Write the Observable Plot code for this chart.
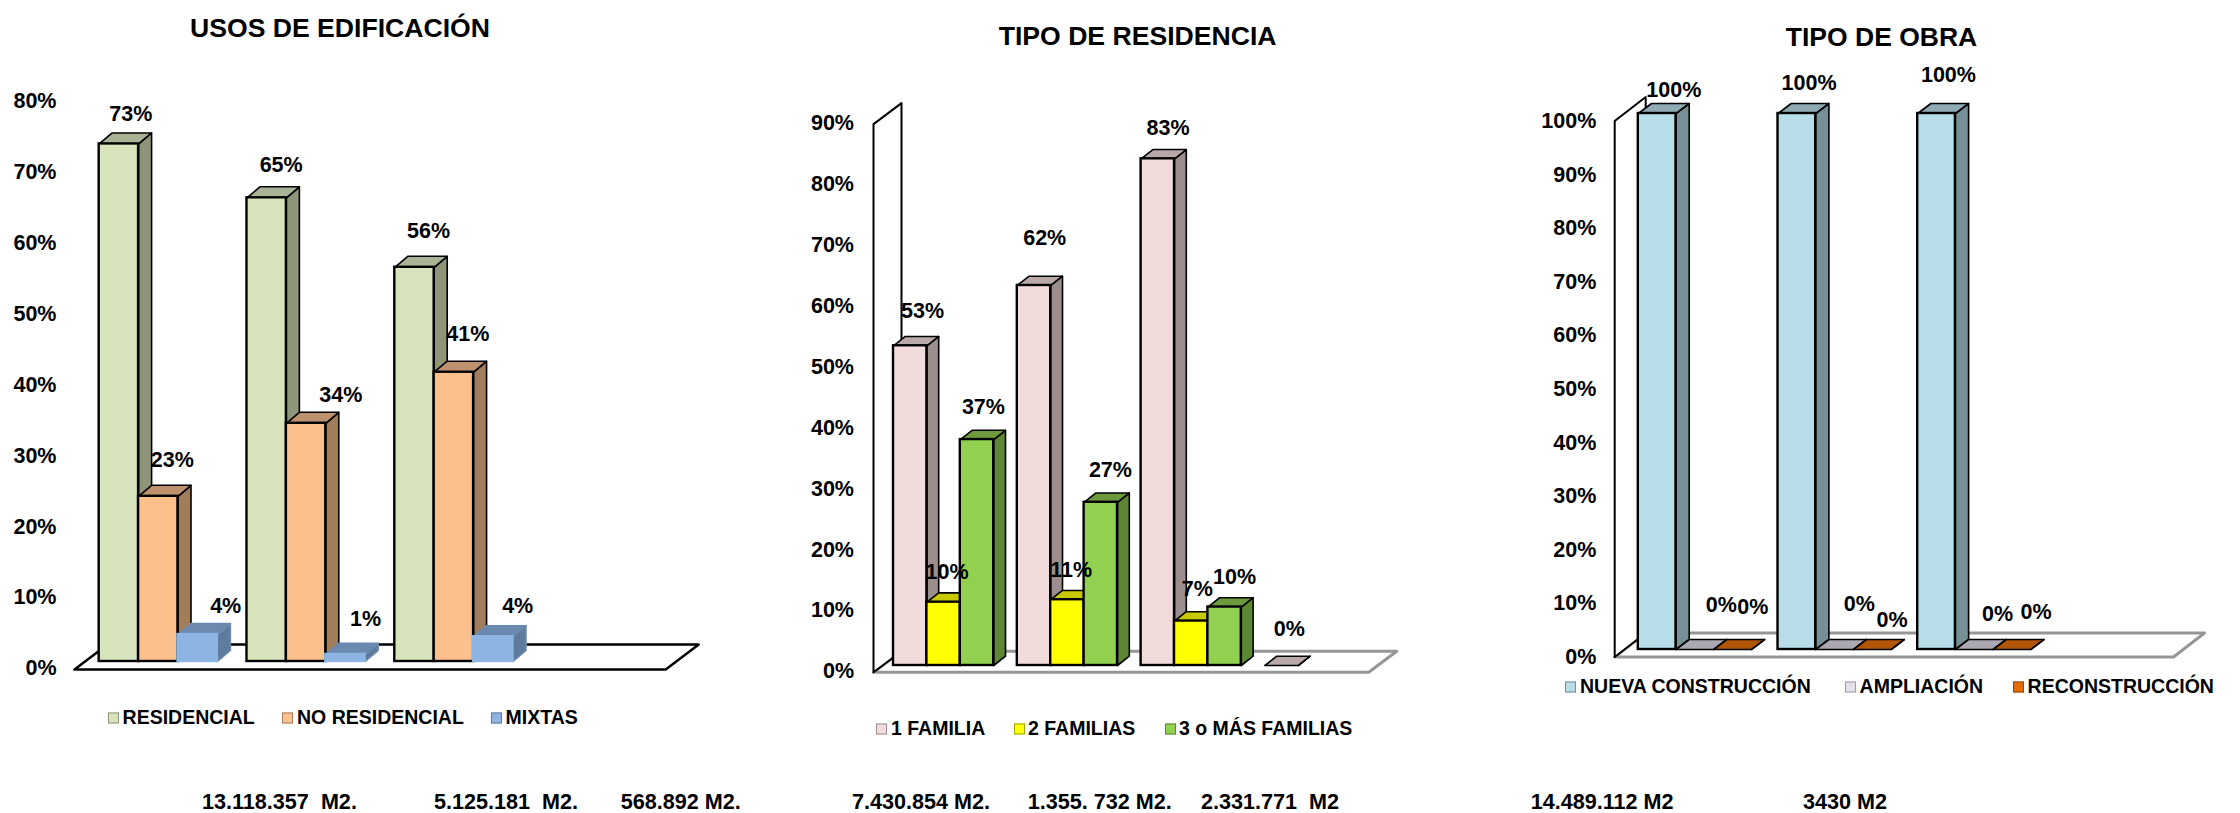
<!DOCTYPE html>
<html lang="es">
<head>
<meta charset="utf-8">
<title>Usos, tipo de residencia y tipo de obra</title>
<script src="https://cdn.jsdelivr.net/npm/d3@7"></script>
<script src="https://cdn.jsdelivr.net/npm/@observablehq/plot@0.6"></script>
<style>
  html, body { margin: 0; padding: 0; background: #fff; }
  #page { position: relative; width: 2240px; height: 813px; overflow: hidden; color: #000;
          font-family: "Liberation Sans", Arial, sans-serif; font-weight: bold; }
  #page svg { position: absolute; background: #fff; overflow: visible; }
  .t { position: absolute; white-space: pre; line-height: 1; transform: translateY(-50%); }
  .title { transform: translate(-50%, -50%); }
  .sw { position: absolute; box-sizing: border-box; width: 11px; height: 11px; transform: translateY(-50%); }
</style>
</head>
<body>
<div id="page"></div>
<script>
// ---------- data ----------
const usosSeries = ["RESIDENCIAL", "NO RESIDENCIAL", "MIXTAS"];
const usosResidencial = [73.0, 65.4, 55.6];
const usosNoResidencial = [23.3, 33.6, 40.8];
const usosMixtas = [3.8, 1.0, 3.5];

const tipoSeries = ["1 FAMILIA", "2 FAMILIAS", "3 o MÁS FAMILIAS"];
const tipoUnaFamilia = [52.5, 62.4, 83.2, 0];
const tipoDosFamilias = [10.4, 10.8, 7.3];
const tipoTresFamilias = [37.1, 26.8, 9.6];

const obraSeries = ["NUEVA CONSTRUCCIÓN", "AMPLIACIÓN", "RECONSTRUCCIÓN"];
const obraNueva = [100, 100, 100];
const obraAmpliacion = [0, 0, 0];
const obraReconstruccion = [0, 0, 0];

const usosCaptions = ["13.118.357  M2.", "5.125.181  M2.", "568.892 M2."];
const tipoCaptions = ["7.430.854 M2.", "1.355. 732 M2.", "2.331.771  M2"];
const obraCaptions = ["14.489.112 M2", "3430 M2"];

// ---------- panel layout and styles (page pixels) ----------
const panels = [
  {
    title: "USOS DE EDIFICACIÓN", titleX: 340, titleY: 28, titleSize: 26.6,
    left: 0, width: 780, top: 50, bottom: 700,
    baseY: 661, pct: 7.09, yMax: 80, x0: 74, cat: 147.8, lead: 0.167, bar: 39.4,
    depthX: 13, depthY: 11, drop: 8, floorX: 33, floorY: 25, wall: false, floorStroke: "#000", floorWidth: 2.5,
    axisRight: 56, axisDy: 7,
    series: [
      { name: usosSeries[0], values: usosResidencial, front: "#D8E4BC", side: "#8E9579", topc: "#A9B396", edge: "#000",
        labels: [[12, -30], [14.5, -33], [14, -36]] },
      { name: usosSeries[1], values: usosNoResidencial, front: "#FCC08D", side: "#A27D5B", topc: "#BE926E", edge: "#000",
        labels: [[14, -36], [34.7, -28], [14, -38]] },
      { name: usosSeries[2], values: usosMixtas, front: "#8DB4E2", side: "#5E7A9C", topc: "#6C8AB0", edge: "#8DB4E2", faceEdge: "#6C8AB0",
        labels: [[28, -28], [20, -35], [24.4, -31]] }
    ],
    legendY: 718, legend: [[108, 122.6], [282, 297], [491, 505.5]],
    captionY: 802, captionsText: usosCaptions, captionX: [202, 434, 620.8]
  },
  {
    title: "TIPO DE RESIDENCIA", titleX: 1137.6, titleY: 36, titleSize: 26.6,
    left: 780, width: 720, top: 50, bottom: 712,
    baseY: 665, pct: 6.09, yMax: 90, x0: 873, cat: 123.8, lead: 0.1616, bar: 33.4,
    depthX: 11.8, depthY: 9.3, drop: 6.7, floorX: 28, floorY: 21, wall: true, floorStroke: "#969696", floorWidth: 3,
    axisRight: 853.5, axisDy: 6,
    series: [
      { name: tipoSeries[0], values: tipoUnaFamilia, front: "#F2DCDB", side: "#9C8E8D", topc: "#B9AAA9", edge: "#000",
        labels: [[12.3, -35], [10.7, -47], [10.3, -31], [7.7, -36]] },
      { name: tipoSeries[1], values: tipoDosFamilias, front: "#FFFF00", side: "#A3A300", topc: "#C9C900", edge: "#000",
        labels: [[3.5, -30], [3.8, -30], [6, -32]] },
      { name: tipoSeries[2], values: tipoTresFamilias, front: "#92D050", side: "#5E8733", topc: "#6C9A3C", edge: "#000",
        labels: [[6.4, -32], [9.6, -32], [10, -30]] }
    ],
    legendY: 729, legend: [[876, 891], [1013.5, 1028], [1164.5, 1179]],
    captionY: 802, captionsText: tipoCaptions, captionX: [852, 1027.8, 1201]
  },
  {
    title: "TIPO DE OBRA", titleX: 1881.5, titleY: 36.7, titleSize: 26.5,
    left: 1500, width: 740, top: 50, bottom: 672,
    baseY: 649, pct: 5.36, yMax: 100, x0: 1614.2, cat: 139.7, lead: 0.169, bar: 37.7,
    depthX: 13.2, depthY: 10, drop: 7.5, floorX: 31, floorY: 24, wall: true, floorStroke: "#969696", floorWidth: 3,
    axisRight: 1595.8, axisDy: 7.7,
    series: [
      { name: obraSeries[0], values: obraNueva, front: "#B7DEE8", side: "#778F96", topc: "#8FAAB3", edge: "#000",
        labels: [[16.6, -23], [12.2, -30.6], [11.9, -38.3]] },
      { name: obraSeries[1], values: obraAmpliacion, front: "#E6E0EC", side: "#9E9AA6", topc: "#ABA7B3", edge: "#000",
        labels: [[26.5, -44.3], [24.7, -45.3], [23.2, -35]] },
      { name: obraSeries[2], values: obraReconstruccion, front: "#E36C09", side: "#934606", topc: "#B25506", edge: "#000",
        labels: [[20.3, -42.3], [19.8, -29], [24, -37.3]] }
    ],
    legendY: 687, legend: [[1564.7, 1580], [1844.5, 1859.6], [2013, 2027.6]],
    captionY: 802, captionsText: obraCaptions, captionX: [1530.7, 1803]
  }
];

const page = document.getElementById("page");

function addText(cls, text, left, top, size) {
  const el = document.createElement("div");
  el.className = "t " + cls;
  el.textContent = text;
  el.style.left = left + "px";
  el.style.top = top + "px";
  el.style.fontSize = size + "px";
  page.appendChild(el);
  return el;
}

function drawPanel(p) {
  const ux = (px) => px / p.cat;      // pixels -> x units
  const uy = (px) => px / p.pct;      // pixels -> percent units
  const d = ux(p.depthX), e = uy(p.depthY), w = ux(p.bar);

  const fronts = [], faces = [], labels = [];
  let id = 0;
  const poly = (pts, fill, stroke) => {
    id += 1;
    for (const [x, y] of pts) faces.push({ id, x, y, fill, stroke });
  };
  p.series.forEach((s, si) => {
    s.values.forEach((v, g) => {
      const x1 = g + p.lead + si * w, x2 = x1 + w;
      const faceEdge = s.faceEdge || s.edge;
      fronts.push({ x1, x2, v, fill: s.front, stroke: s.edge });
      poly([[x2, 0], [x2 + d, e], [x2 + d, v + e], [x2, v], [x2, 0]], s.side, faceEdge);
      poly([[x1, v], [x1 + d, v + e], [x2 + d, v + e], [x2, v], [x1, v]], s.topc, faceEdge);
      const [ox, oy] = s.labels[g];
      labels.push({ x: (x1 + x2) / 2 + ux(ox), y: v - uy(oy), text: Math.round(v) + "%" });
    });
  });

  // floor and back wall, in the same data units as the bars
  const fy = -uy(p.drop), fbx = ux(p.floorX), fby = uy(p.floorY);
  const span = 4;
  const floor = [[0, fy], [span, fy], [span + fbx, fy + fby], [fbx, fy + fby], [0, fy]].map(([x, y]) => ({ x, y }));
  const wallTop = p.yMax - uy(p.drop);
  const wall = p.wall
    ? [[0, fy], [0, wallTop], [fbx, wallTop + fby], [fbx, fy + fby], [0, fy]].map(([x, y]) => ({ x, y }))
    : [];

  const plot = Plot.plot({
    width: p.width,
    height: p.bottom - p.top,
    marginLeft: p.axisRight - p.left,
    marginRight: 0, marginTop: 0, marginBottom: 0,
    x: { domain: [0, span], range: [p.x0 - p.left, p.x0 - p.left + span * p.cat], axis: null },
    y: { domain: [0, p.yMax], range: [p.baseY - p.top, p.baseY - p.top - p.yMax * p.pct], axis: null },
    color: { type: "identity" },
    style: { fontFamily: '"Liberation Sans", Arial, sans-serif', color: "#000", background: "#fff", overflow: "visible" },
    marks: [
      Plot.line(floor, { x: "x", y: "y", fill: "#fff", stroke: p.floorStroke, strokeWidth: p.floorWidth }),
      Plot.line(wall, { x: "x", y: "y", fill: "#fff", stroke: "#000", strokeWidth: 2 }),
      Plot.line(faces, { x: "x", y: "y", z: "id", fill: "fill", stroke: "stroke", strokeWidth: 1.6 }),
      Plot.rect(fronts, { x1: "x1", x2: "x2", y1: 0, y2: "v", fill: "fill", stroke: "stroke", strokeWidth: 2.4 }),
      Plot.axisY({
        anchor: "left",
        ticks: d3.range(0, p.yMax + 1, 10),
        tickFormat: (t) => t + "%",
        tickSize: 0, tickPadding: 0, label: null, dy: p.axisDy,
        fontSize: 21.5, fontWeight: "bold"
      }),
      Plot.text(labels, { x: "x", y: "y", text: "text", fontSize: 21.5, fontWeight: "bold", fill: "#000" })
    ]
  });
  plot.style.left = p.left + "px";
  plot.style.top = p.top + "px";

  addText("title", p.title, p.titleX, p.titleY, p.titleSize);
  page.appendChild(plot);

  p.series.forEach((s, si) => {
    const [sx, tx] = p.legend[si];
    const sw = document.createElement("div");
    sw.className = "sw";
    sw.style.left = sx + "px";
    sw.style.top = p.legendY + "px";
    sw.style.background = s.front;
    sw.style.border = "1px solid " + s.side;
    page.appendChild(sw);
    addText("", s.name, tx, p.legendY, 19.5);
  });
  p.captionsText.forEach((c, i) => addText("", c, p.captionX[i], p.captionY, 21.6));
}

panels.forEach(drawPanel);
</script>
</body>
</html>
